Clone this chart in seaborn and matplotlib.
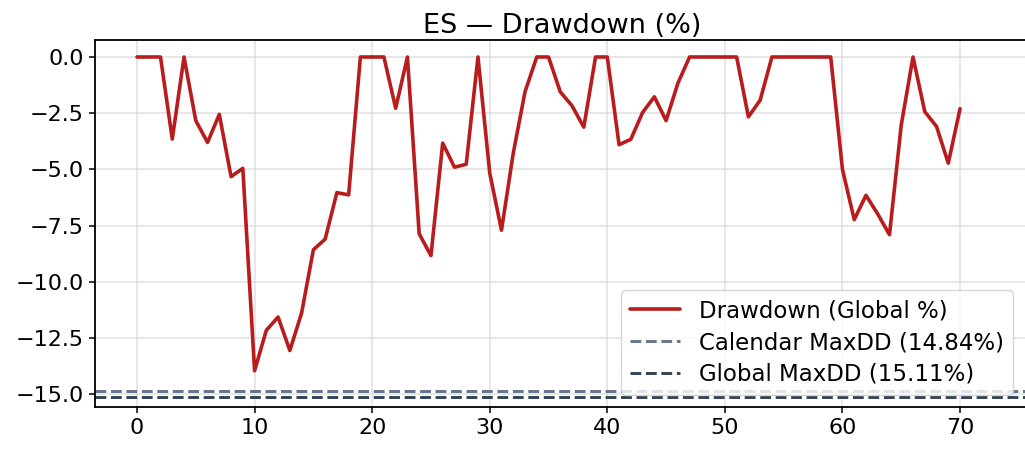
import numpy as np
import pandas as pd
import matplotlib
matplotlib.use("Agg")
import matplotlib.pyplot as plt
import seaborn as sns

# Data
periods = list(range(71))
drawdown = [
    0.0, 0.0, 0.0, -3.65, 0.0, -2.83, -3.8, -2.55, -5.32, -4.95,
    -13.95, -12.15, -11.56, -13.05, -11.38, -8.57, -8.1, -6.03, -6.13, 0.0,
    0.0, 0.0, -2.28, 0.0, -7.86, -8.83, -3.83, -4.9, -4.77, 0.0,
    -5.16, -7.7, -4.28, -1.55, 0.0, 0.0, -1.55, -2.17, -3.12, 0.0,
    0.0, -3.9, -3.66, -2.47, -1.77, -2.83, -1.17, 0.0, 0.0, 0.0,
    0.0, 0.0, -2.66, -1.92, 0.0, 0.0, 0.0, 0.0, 0.0, 0.0,
    -5.0, -7.23, -6.15, -6.98, -7.9, -3.02, 0.0, -2.43, -3.09, -4.72,
    -2.3,
]
calendar_maxdd = 14.84
global_maxdd = 15.11

df = pd.DataFrame({"period": periods, "dd": drawdown})

sns.set_style("ticks")
plt.rcParams["font.family"] = ["DejaVu Sans"]
plt.rcParams["text.color"] = "black"
plt.rcParams["xtick.color"] = "black"
plt.rcParams["ytick.color"] = "black"
plt.rcParams["axes.labelcolor"] = "black"

fig = plt.figure(figsize=(10.25, 4.5), dpi=100)
ax = fig.add_axes([95 / 1025, 43 / 450, (1030 - 95) / 1025, (407 - 40) / 450])

sns.lineplot(data=df, x="period", y="dd", ax=ax, color="#b91c1c", linewidth=2.6,
             label="Drawdown (Global %)")
ax.axhline(-calendar_maxdd, color="#64748b", linestyle="--", linewidth=2.1,
           label=f"Calendar MaxDD ({calendar_maxdd:.2f}%)")
ax.axhline(-global_maxdd, color="#334155", linestyle="--", linewidth=2.1,
           label=f"Global MaxDD ({global_maxdd:.2f}%)")

ax.set_xlim(-3.572, 75.95)
ax.set_ylim(-15.56, 0.755)
ax.set_xticks([0, 10, 20, 30, 40, 50, 60, 70])
ax.set_yticks([0.0, -2.5, -5.0, -7.5, -10.0, -12.5, -15.0])
ax.set_xlabel("")
ax.set_ylabel("")
ax.grid(True, color="#d4d4d4", alpha=0.7, linewidth=1.1)
ax.tick_params(labelsize=16, length=4.5, width=1.1, color="black", labelcolor="black")
for s in ax.spines.values():
    s.set_color("black")
    s.set_linewidth(1.3)
ax.set_title("ES — Drawdown (%)", fontsize=19.5, pad=5, color="black")

leg = ax.legend(loc="lower right", bbox_to_anchor=(1013 / 1025, 55 / 450),
                bbox_transform=fig.transFigure, borderaxespad=0, fontsize=16.5,
                frameon=True, fancybox=True, framealpha=0.8, edgecolor="#cccccc",
                labelspacing=0.38, handlelength=2.2)

fig.savefig("out.png", dpi=100)
